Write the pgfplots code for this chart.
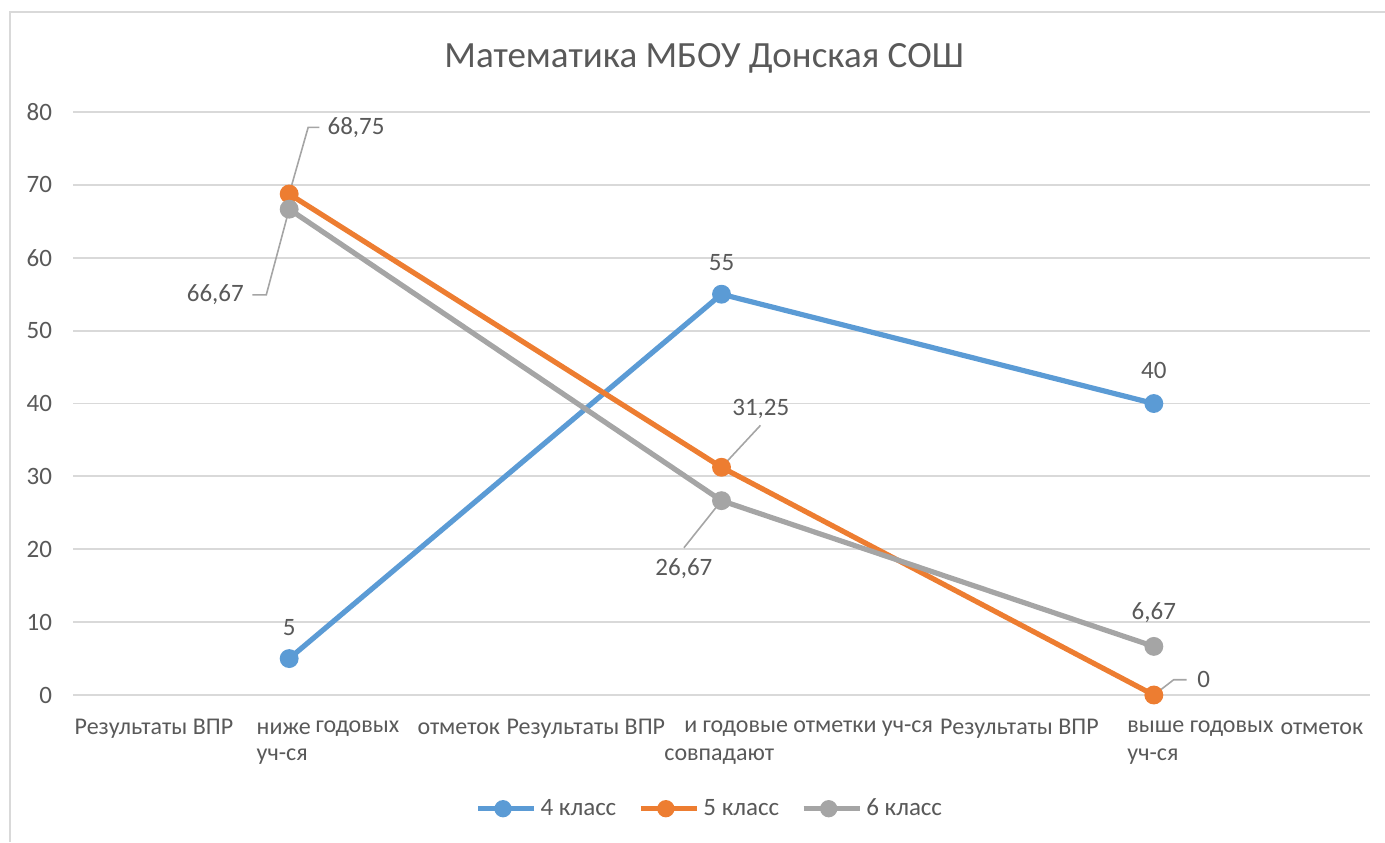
\documentclass[border=0pt]{standalone}
\usepackage{fontspec}
\setmainfont{Carlito}
\usepackage{pgfplots}
\pgfplotsset{compat=1.18}

\definecolor{c4}{HTML}{5B9BD5}
\definecolor{c5}{HTML}{ED7D31}
\definecolor{c6}{HTML}{A5A5A5}
\definecolor{txt}{HTML}{595959}
\definecolor{gridc}{HTML}{D9D9D9}

\begin{document}
\begin{tikzpicture}
  % page = 1385 x 842 px at 0.5pt per px
  \useasboundingbox (0,0) rectangle (692.5pt,-421pt);
  \draw[gridc, line width=1pt] (5pt,-421pt) -- (5pt,-6pt) -- (692.5pt,-6pt);
  \begin{axis}[
      at={(36.5pt,-347.5pt)}, anchor=south west,
      scale only axis, width=648.5pt, height=291.5pt,
      xmin=-0.5, xmax=2.5, ymin=0, ymax=80,
      ytick={0,10,...,80},
      xtick=\empty,
      axis line style={draw=none},
      major tick length=0pt,
      ymajorgrids, grid style={gridc, line width=0.9pt},
      clip=false,
      /pgf/number format/assume math mode=true,
      tick label style={font=\fontsize{12.5}{15}\selectfont, text=txt},
      yticklabel style={xshift=-7pt},
      legend columns=3,
      legend style={at={(axis cs:0.975,-15.6)}, anchor=center, draw=none,
        font=\fontsize{12.5}{15}\selectfont, text=txt,
        /tikz/every even column/.append style={column sep=9pt}},
      legend image code/.code={%
        \draw[#1, mark size=3pt, mark repeat=2, mark phase=2]
          plot coordinates {(0pt,0pt) (12.5pt,0pt) (28pt,0pt)};},
      every axis plot/.append style={line width=2.6pt, mark=*, mark size=3.4pt},
    ]
    \addplot[c4] coordinates {(0,5) (1,55) (2,40)};
    \addlegendentry{4 класс}
    \addplot[c5] coordinates {(0,68.75) (1,31.25) (2,0)};
    \addlegendentry{5 класс}
    \addplot[c6] coordinates {(0,66.67) (1,26.67) (2,6.67)};
    \addlegendentry{6 класс}

    % title
    \node[text=txt, font=\fontsize{18.5}{22}\selectfont] at (axis cs:0.96,87.4)
      {Математика МБОУ Донская СОШ};

    % data labels
    \begin{scope}[every node/.style={text=txt, font=\fontsize{12.5}{15}\selectfont, inner sep=0pt}]
      \node at (axis cs:0,9.3) {5};
      \node at (axis cs:1,59.4) {55};
      \node at (axis cs:2,44.5) {40};
      \node at (axis cs:2,11.3) {6,67};
      \node[anchor=west] at (axis cs:0.088,77.9) {68,75};
      \node[anchor=east] at (axis cs:-0.104,54.9) {66,67};
      \node at (axis cs:1.091,39.3) {31,25};
      \node at (axis cs:0.913,17.3) {26,67};
      \node[anchor=west] at (axis cs:2.1,2.1) {0};
    \end{scope}
    \begin{scope}[c6, line width=0.8pt]
      \draw (axis cs:0,68.75) -- (axis cs:0.044,77.9) -- (axis cs:0.07,77.9);
      \draw (axis cs:0,66.67) -- (axis cs:-0.053,54.9) -- (axis cs:-0.085,54.9);
      \draw (axis cs:1,31.25) -- (axis cs:1.09,37.0);
      \draw (axis cs:1,26.67) -- (axis cs:0.913,20.2);
      \draw (axis cs:2,0) -- (axis cs:2.046,2.1) -- (axis cs:2.076,2.1);
    \end{scope}

    % category labels (split across the category width)
    \begin{scope}[every node/.style={text=txt, font=\fontsize{12}{14.5}\selectfont, inner sep=0pt, anchor=west}]
      \node at (axis cs:-0.497,-4.6) {Результаты ВПР};
      \node at (axis cs:-0.076,-4.6) {ниже};
      \node at (axis cs:0.06,-4.6) {годовых};
      \node at (axis cs:0.296,-4.6) {отметок};
      \node at (axis cs:-0.076,-8.4) {уч-ся};
      \node at (axis cs:0.502,-4.6) {Результаты ВПР};
      \node at (axis cs:0.913,-4.6) {и годовые отметки уч-ся};
      \node at (axis cs:0.867,-8.4) {совпадают};
      \node at (axis cs:1.505,-4.6) {Результаты ВПР};
      \node at (axis cs:1.938,-4.6) {выше годовых};
      \node[anchor=east] at (axis cs:2.485,-4.6) {отметок};
      \node at (axis cs:1.938,-8.4) {уч-ся};
    \end{scope}
  \end{axis}
\end{tikzpicture}
\end{document}
